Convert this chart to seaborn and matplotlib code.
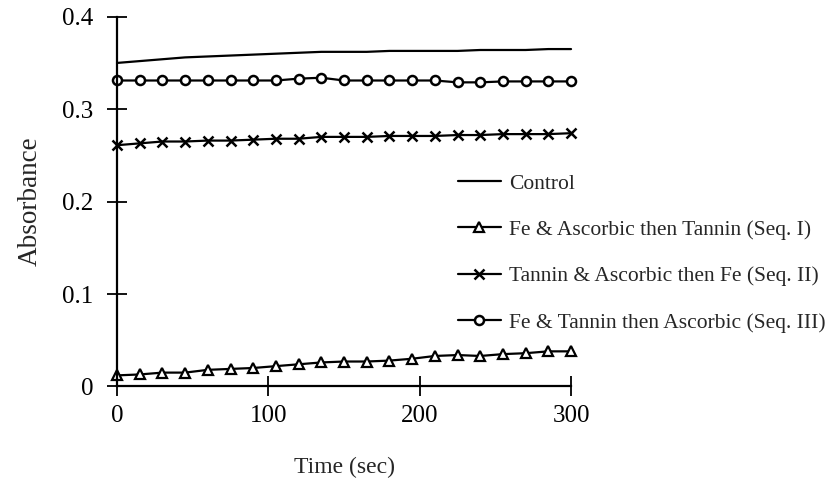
import pandas as pd
import matplotlib.pyplot as plt
import seaborn as sns

# Time points (sec), one reading every 15 s
time_sec = [0, 15, 30, 45, 60, 75, 90, 105, 120, 135, 150,
            165, 180, 195, 210, 225, 240, 255, 270, 285, 300]

# Absorbance readings
control = [0.350, 0.352, 0.354, 0.356, 0.357, 0.358, 0.359, 0.360, 0.361, 0.362, 0.362,
           0.362, 0.363, 0.363, 0.363, 0.363, 0.364, 0.364, 0.364, 0.365, 0.365]
seq_1 = [0.012, 0.013, 0.015, 0.015, 0.018, 0.019, 0.020, 0.022, 0.024, 0.026, 0.027,
         0.027, 0.028, 0.030, 0.033, 0.034, 0.033, 0.035, 0.036, 0.038, 0.038]
seq_2 = [0.261, 0.263, 0.265, 0.265, 0.266, 0.266, 0.267, 0.268, 0.268, 0.270, 0.270,
         0.270, 0.271, 0.271, 0.271, 0.272, 0.272, 0.273, 0.273, 0.273, 0.274]
seq_3 = [0.331, 0.331, 0.331, 0.331, 0.331, 0.331, 0.331, 0.331, 0.333, 0.334, 0.331,
         0.331, 0.331, 0.331, 0.331, 0.329, 0.329, 0.330, 0.330, 0.330, 0.330]

labels = ["Control",
          "Fe & Ascorbic then Tannin (Seq. I)",
          "Tannin & Ascorbic then Fe (Seq. II)",
          "Fe & Tannin then Ascorbic (Seq. III)"]

x_ticks = [0, 100, 200, 300]
y_ticks = [0, 0.1, 0.2, 0.3, 0.4]
y_tick_labels = ["0", "0.1", "0.2", "0.3", "0.4"]

sns.set_style("ticks")
plt.rcParams['font.family'] = ['Liberation Serif', 'DejaVu Serif']

fig = plt.figure(figsize=(8.34, 4.99), dpi=100)
ax = fig.add_axes([0.1403, 0.2255, 0.5444, 0.741])

series = [control, seq_1, seq_2, seq_3]
styles = [dict(marker=None),
          dict(marker='^', markersize=7, markerfacecolor='white', markeredgewidth=1.6),
          dict(marker='x', markersize=7, markeredgewidth=1.8),
          dict(marker='o', markersize=6.5, markerfacecolor='white', markeredgewidth=1.8)]

for vals, lab, st in zip(series, labels, styles):
    sns.lineplot(x=time_sec, y=vals, ax=ax, color='black', linewidth=1.6,
                 markeredgecolor='black', linestyle='-',
                 label=lab, clip_on=False, **st)

ax.set_xlim(0, 300)
ax.set_ylim(0, 0.4)
ax.set_xticks(x_ticks)
ax.set_xticklabels([str(t) for t in x_ticks])
ax.set_yticks(y_ticks)
ax.set_yticklabels(y_tick_labels)
sns.despine(ax=ax)
for side in ['left', 'bottom']:
    ax.spines[side].set_linewidth(1.6)
    ax.spines[side].set_color('black')
ax.tick_params(direction='inout', length=14, width=1.3, colors='black',
               labelsize=18)
ax.tick_params(axis='y', pad=10)
ax.tick_params(axis='x', pad=6)

ax.set_xlabel("Time (sec)", fontsize=17, labelpad=22)
ax.set_ylabel("Absorbance", fontsize=19.5, labelpad=14)

ax.legend(loc='upper left', bbox_to_anchor=(0.536, 0.674),
          bbox_transform=fig.transFigure, frameon=False, fontsize=15.5,
          handlelength=2.0, handletextpad=0.4, labelspacing=1.22, borderpad=0)

plt.savefig('out.png', dpi=100)
